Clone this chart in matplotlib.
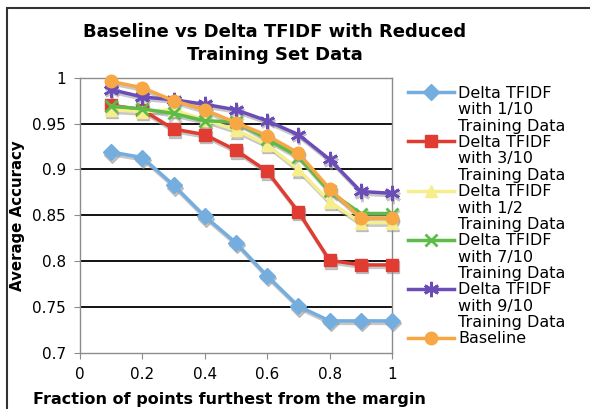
import numpy as np
import matplotlib
matplotlib.use("Agg")
import matplotlib.pyplot as plt
from matplotlib.lines import Line2D
from matplotlib.patches import Rectangle
from matplotlib.transforms import offset_copy

plt.rcParams['font.family'] = ['DejaVu Sans']

# data
fraction = [0.1, 0.2, 0.3, 0.4, 0.5, 0.6, 0.7, 0.8, 0.9, 1.0]
acc_1_10 = [0.919, 0.913, 0.883, 0.849, 0.820, 0.784, 0.751, 0.735, 0.735, 0.735]
acc_3_10 = [0.970, 0.965, 0.944, 0.938, 0.921, 0.898, 0.854, 0.801, 0.796, 0.796]
acc_1_2 = [0.965, 0.963, 0.965, 0.954, 0.943, 0.927, 0.900, 0.865, 0.842, 0.842]
acc_7_10 = [0.969, 0.966, 0.961, 0.953, 0.952, 0.933, 0.914, 0.876, 0.852, 0.852]
acc_9_10 = [0.987, 0.979, 0.976, 0.971, 0.965, 0.953, 0.938, 0.911, 0.876, 0.874]
baseline = [0.996, 0.989, 0.975, 0.965, 0.951, 0.937, 0.918, 0.879, 0.847, 0.847]

labels = [
    ["Delta TFIDF", "with 1/10", "Training Data"],
    ["Delta TFIDF", "with 3/10", "Training Data"],
    ["Delta TFIDF", "with 1/2", "Training Data"],
    ["Delta TFIDF", "with 7/10", "Training Data"],
    ["Delta TFIDF", "with 9/10", "Training Data"],
    ["Baseline"],
]
xticks = [0, 0.2, 0.4, 0.6, 0.8, 1]
xtick_labels = ["0", "0.2", "0.4", "0.6", "0.8", "1"]
yticks = [0.7, 0.75, 0.8, 0.85, 0.9, 0.95, 1.0]
ytick_labels = ["0.7", "0.75", "0.8", "0.85", "0.9", "0.95", "1"]

series = [acc_1_10, acc_3_10, acc_1_2, acc_7_10, acc_9_10, baseline]
colors = ["#74AEDF", "#E03C31", "#F6EE8C", "#5DBB4A", "#6B4DB8", "#F7A844"]
markers = ["D", "s", "^", "x", (6, 2, 0), "o"]
msizes = [8, 9, 9, 9, 11, 9]

fig = plt.figure(figsize=(5.9, 4.09), dpi=100)
ax = fig.add_axes([80 / 590, 1 - 353 / 409, 312 / 590, 275.3 / 409])

shadow = offset_copy(ax.transData, fig=fig, x=1, y=-2.5, units='dots')

handles = []
for ys, c, m, ms in zip(series, colors, markers, msizes):
    mew = 2 if m in ("x", (6, 2, 0)) else 1
    # grey drop shadow like the excel original
    ax.plot(fraction, ys, color="#9a9a9a", lw=2.5, marker=m, ms=ms, mew=mew,
            alpha=0.55, transform=shadow, zorder=2, clip_on=False)
    ax.plot(fraction, ys, color=c, lw=2.5, marker=m, ms=ms, mew=mew,
            mec=c, mfc=c, zorder=3, clip_on=False)
    handles.append(Line2D([], [], color=c, lw=2.5, marker=m, ms=ms, mew=mew))

ax.set_xlim(0, 1)
ax.set_ylim(0.7, 1.0)
ax.set_xticks(xticks)
ax.set_xticklabels(xtick_labels)
ax.set_yticks(yticks)
ax.set_yticklabels(ytick_labels)
for y in yticks[1:-1]:
    ax.axhline(y, color="black", lw=1.3, zorder=1)
for s in ax.spines.values():
    s.set_color("#8c8c8c")
    s.set_linewidth(1.0)
ax.tick_params(direction="out", length=4, color="#8c8c8c", labelsize=11)
ax.tick_params(axis="y", pad=6)
ax.tick_params(axis="x", pad=6)

ax.set_ylabel("Average Accuracy", fontsize=10.8, fontweight="bold", labelpad=5)
ax.set_xlabel("Fraction of points furthest from the margin", fontsize=11.5,
              fontweight="bold")
ax.xaxis.set_label_coords(0.48, -0.14)

fig.text(0.466, 0.893, "Baseline vs Delta TFIDF with Reduced\nTraining Set Data",
         ha="center", va="center", fontsize=13, fontweight="bold", linespacing=1.35)

# legend: one row per text line, blank handles for continuation lines
leg_handles = []
leg_labels = []
for h, lab in zip(handles, labels):
    leg_handles.append(h)
    leg_labels.append(lab[0])
    for extra in lab[1:]:
        leg_handles.append(Line2D([], [], linestyle="none"))
        leg_labels.append(extra)
fig.legend(leg_handles, leg_labels, loc="upper left",
           bbox_to_anchor=(408 / 590, 1 - 86 / 409), frameon=False,
           fontsize=11.5, labelspacing=0.085, handlelength=2.85, handletextpad=0.3,
           borderpad=0, borderaxespad=0)

# outer chart frame (cropped on the right/bottom)
fig.patches.append(Rectangle((7 / 590, -0.1), 1.2, 1.1 - 8 / 409,
                             transform=fig.transFigure, fill=False,
                             edgecolor="#333333", lw=1.5))

fig.savefig("out.png", dpi=100)
